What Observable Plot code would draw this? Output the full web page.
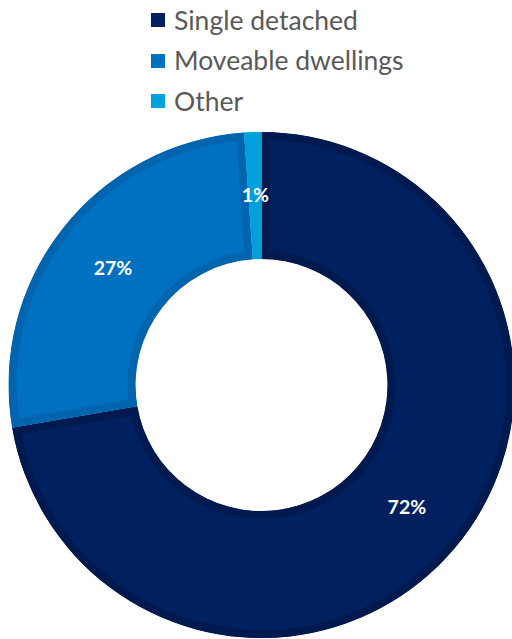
<!DOCTYPE html>
<html>
<head>
<meta charset="utf-8">
<script src="https://cdn.jsdelivr.net/npm/d3@7"></script>
<script src="https://cdn.jsdelivr.net/npm/@observablehq/plot@0.6"></script>
<style>
  html, body { margin: 0; padding: 0; background: #fff; }
  #legend { position: relative; width: 512px; height: 120px; font-family: Lato, "Open Sans", sans-serif; }
  .item { position: absolute; left: 151px; height: 40px; display: flex; align-items: center; }
  .swatch { width: 14px; height: 14px; margin-right: 9px; }
  .name { font-size: 26.5px; color: #595959; line-height: 1; }
  #chart svg { display: block; }
</style>
</head>
<body>
<div id="legend"></div>
<div id="chart"></div>
<script>
const categories = ["Single detached", "Moveable dwellings", "Other"];
const shares = [72.3, 26.6, 1.1];
const pctLabels = ["72%", "27%", "1%"];
const fillColors = ["#002060", "#0070C0", "#00A0DC"];
const edgeColors = ["#001A50", "#0064AE", "#00A0DC"];
const outerR = 253;
const innerR = 126;

// legend
const legend = d3.select("#legend");
categories.forEach((c, i) => {
  const item = legend.append("div").attr("class", "item").style("top", (i * 40.5) + "px");
  item.append("div").attr("class", "swatch").style("background", fillColors[i]);
  item.append("div").attr("class", "name").text(c);
});

const slices = categories.map((c, i) => ({category: c, share: shares[i], label: pctLabels[i], fill: fillColors[i], edge: edgeColors[i]}));
const pie = d3.pie().sort(null).value(d => d.share)(slices);
const centroidArc = d3.arc().innerRadius(innerR).outerRadius(outerR);
const labelData = pie.map(p => {
  const [cx, cy] = centroidArc.centroid(p);
  return {label: p.data.label, x: cx, y: -cy};
});

function donut(index, scales, values, dimensions, context) {
  const x0 = scales.x(0), y0 = scales.y(0);
  const k = scales.x(1) - scales.x(0);
  const g = d3.create("svg:g").attr("transform", `translate(${x0},${y0})`);
  const arc = d3.arc().innerRadius(innerR * k).outerRadius(outerR * k);
  pie.forEach((p, i) => {
    const id = "slice-clip-" + i;
    const d = arc(p);
    g.append("clipPath").attr("id", id).append("path").attr("d", d);
    g.append("path")
      .attr("d", d)
      .attr("fill", p.data.fill)
      .attr("stroke", p.data.edge)
      .attr("stroke-width", 16)
      .attr("clip-path", `url(#${id})`);
  });
  return g.node();
}

const chart = Plot.plot({
  width: 512,
  height: 519,
  margin: 0,
  style: {background: "white", fontFamily: "Lato, sans-serif"},
  x: {domain: [-261.5, 250.5], axis: null},
  y: {domain: [-254, 265], axis: null},
  marks: [
    donut,
    Plot.text(labelData, {x: "x", y: "y", text: "label", fill: "white", fontSize: 19.5, fontWeight: "bold", fontFamily: "Lato, sans-serif"})
  ]
});
document.getElementById("chart").appendChild(chart);
</script>
</body>
</html>
